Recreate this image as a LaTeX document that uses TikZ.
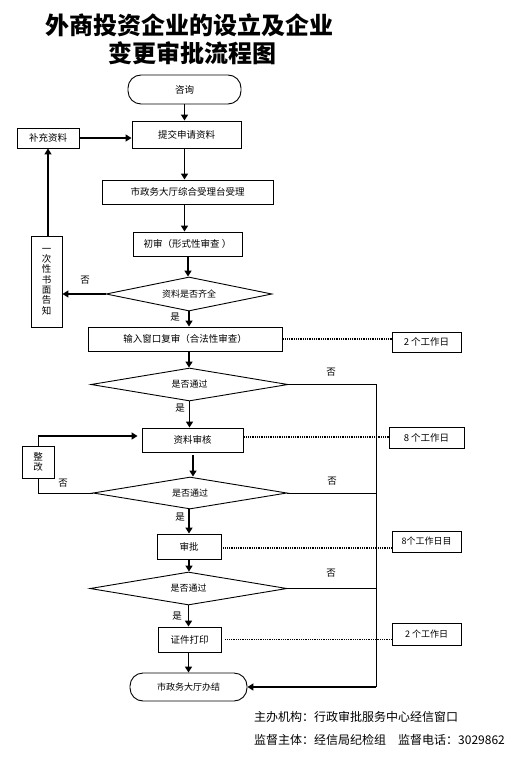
\documentclass[tikz,border=0pt]{standalone}
\usepackage{fontspec}
\setmainfont{Noto Sans CJK SC}
\usetikzlibrary{shapes.geometric,arrows.meta,calc}
\begin{document}
\begin{tikzpicture}[x=1pt,y=-1pt,
  box/.style={draw, line width=0.9pt, inner sep=0pt, font=\fontsize{9.5}{11}\selectfont},
  term/.style={box, rounded corners=13pt},
  dia/.style={draw, diamond, aspect=6, inner sep=0pt, line width=0.9pt, font=\fontsize{9}{11}\selectfont},
  arr/.style={line width=1.8pt, -{Triangle[length=6pt,width=7pt]}},
  ln/.style={line width=0.9pt},
  dotln/.style={line width=1.6pt, dash pattern=on 1pt off 0.8pt},
  lab/.style={inner sep=0pt, font=\fontsize{9.5}{11}\selectfont},
  gzr/.style={box, font=\fontsize{9.5}{11}\selectfont}]
\useasboundingbox (0,0) rectangle (518,762);
\fill[white] (0,0) rectangle (518,762);

% title
\node[inner sep=0pt, font=\fontsize{24}{28}\bfseries] (t1) at (189,25) {外商投资企业的设立及企业};
\node[inner sep=0pt, font=\fontsize{24}{28}\bfseries] (t2) at (192,53) {变更审批流程图};

% nodes
\node[term, minimum width=113, minimum height=29] (zixun) at (184.5,89.5) {咨询};
\node[box, minimum width=109, minimum height=27] (tijiao) at (186.5,134.5) {提交申请资料};
\node[box, minimum width=62, minimum height=20] (buchong) at (48,138) {补充资料};
\node[box, minimum width=171, minimum height=24] (shizheng) at (187.5,192) {市政务大厅综合受理台受理};
\node[box, minimum width=109, minimum height=24] (chushen) at (187.5,244) {初审（形式性审查 ）};
\node[dia, minimum width=166, minimum height=34] (d1) at (189,294) {资料是否齐全};
\node[box, minimum width=31, minimum height=91, align=center, font=\fontsize{9.5}{10.3}\selectfont] (yici) at (46.5,281.5) {一\\次\\性\\书\\面\\告\\知};
\node[box, minimum width=194, minimum height=24] (shuru) at (185,339) {输入窗口复审（合法性审查）};
\node[gzr, minimum width=69, minimum height=20] (gzr1) at (426.5,342) {2 个工作日};
\node[dia, minimum width=197, minimum height=33] (d2) at (189.5,384.5) {是否通过};
\node[box, minimum width=101, minimum height=24] (ziliao) at (192.5,440) {资料审核};
\node[gzr, minimum width=75, minimum height=21] (gzr2) at (426.5,437.5) {8 个工作日};
\node[box, minimum width=32, minimum height=32, align=center, font=\fontsize{9.5}{10.3}\selectfont] (zhenggai) at (38,462) {整\\改};
\node[dia, minimum width=194, minimum height=32] (d3) at (190,493) {是否通过};
\node[box, minimum width=64, minimum height=25] (shenpi) at (189,546.5) {审批};
\node[gzr, minimum width=69, minimum height=21, font=\fontsize{9}{11}\selectfont] (gzr3) at (426.5,541.5) {8个工作日目};
\node[dia, minimum width=197, minimum height=33] (d4) at (188.5,588.5) {是否通过};
\node[box, minimum width=63, minimum height=25] (zhengjian) at (189.5,639.5) {证件打印};
\node[gzr, minimum width=69, minimum height=22, font=\fontsize{9}{11}\selectfont] (gzr4) at (426.5,634) {2 个工作日};
\node[term, minimum width=117, minimum height=28, font=\fontsize{9}{11}\selectfont] (banjie) at (188.5,687) {市政务大厅办结};

% coordinates
\coordinate (railtop) at (376,384.5);
\coordinate (railbot) at (376,687);
\coordinate (zgtop) at (38,436);

% main flow
\draw[arr] (zixun.south) -- (zixun.south |- tijiao.north);
\draw[arr] (tijiao.south -| zixun.south) -- (zixun.south |- shizheng.north);
\draw[arr] (shizheng.south -| zixun.south) -- (zixun.south |- chushen.north);
\draw[arr] (chushen.south) ++(0.5,0) coordinate (c1) -- (c1 |- d1.north);
\draw[arr] (d1.south) -- (d1.south |- shuru.north);
\draw[arr] (shuru.south) ++(4,0) coordinate (c2) -- (c2 |- d2.north);
\draw[arr] (d2.south) -- (d2.south |- ziliao.north);
\draw[arr] (ziliao.south) ++(0.5,3) coordinate (c3) -- (c3 |- d3.north);
\draw[arr] (d3.south) ++(-1,0) coordinate (c4) -- (c4 |- shenpi.north);
\draw[arr] (shenpi.south) -- (shenpi.south |- d4.north);
\draw[arr] (d4.south) -- (d4.south |- zhengjian.north);
\draw[arr] (zhengjian.south) ++(-1,0) coordinate (c5) -- (c5 |- banjie.north);

% loop 1
\draw[arr] (d1.west) -- (d1.west -| yici.east);
\draw[arr] (yici.north -| buchong.south) -- (buchong.south);
\draw[arr] (buchong.east) -- (buchong.east -| tijiao.west);

% loop 2
\draw[ln] (zhenggai.north) -- (zgtop);
\draw[arr] (zgtop) -- ($(zgtop -| ziliao.west)+(-4,0)$);
\draw[ln] (d3.west) -- (d3.west -| zhenggai.south) -- (zhenggai.south);

% rail
\draw[ln] (d2.east) -- (railtop) -- (railbot);
\draw[ln] (d3.east) -- (d3.east -| railtop);
\draw[ln] (d4.east) -- (d4.east -| railtop);
\draw[arr] (railbot) -- (railbot -| banjie.east);

% dotted
\draw[dotln] (shuru.east) ++(1,0) coordinate (e1) -- (e1 -| gzr1.west);
\draw[dotln] (ziliao.east) ++(1,-3) coordinate (e2) -- (e2 -| gzr2.west);
\draw[dotln] (shenpi.east) ++(2,1.5) coordinate (e3) -- (e3 -| gzr3.west);
\draw[dotln] (zhengjian.east) ++(4,0) coordinate (e4) -- (e4 -| gzr4.west);

% labels
\node[lab] (n1) at (85,280) {否};
\node[lab] (y1) at (175,317) {是};
\node[lab] (n2) at (331,372) {否};
\node[lab] (y2) at (180,408) {是};
\node[lab] (n3) at (63,483) {否};
\node[lab] (n4) at (332,481) {否};
\node[lab] (y3) at (180,517) {是};
\node[lab] (n5) at (331,573) {否};
\node[lab] (y4) at (177,616) {是};

% footer
\node[anchor=west, inner sep=0pt, font=\fontsize{12}{14}\selectfont] (f1) at (254,717) {主办机构：行政审批服务中心经信窗口};
\node[anchor=west, inner sep=0pt, font=\fontsize{12}{14}\selectfont] (f2) at (254,740) {监督主体：经信局纪检组\hspace{12pt}监督电话：3029862};
\end{tikzpicture}
\end{document}
